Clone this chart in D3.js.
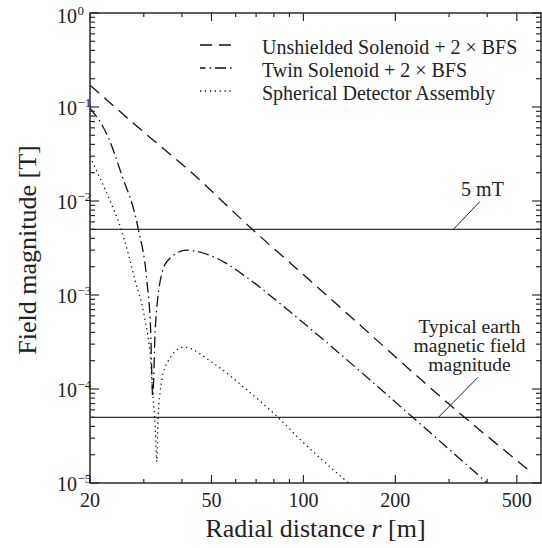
<!DOCTYPE html>
<html><head><meta charset="utf-8">
<script src="https://cdn.jsdelivr.net/npm/d3@7"></script>
<style>
body{margin:0;background:#fff}
svg{display:block}
text{font-family:"Liberation Serif","Times New Roman",Times,serif;fill:#222}
</style>
</head><body>
<svg id="c" width="542" height="548"></svg>
<script>
// ---- data ----
const seriesNames = ["Unshielded Solenoid + 2 \u00d7 BFS", "Twin Solenoid + 2 \u00d7 BFS", "Spherical Detector Assembly"];

const unshieldedR = [20, 30, 42, 68, 101, 150, 200, 337, 450, 561];
const unshieldedB = [0.171, 0.054, 0.0215, 5.0e-3, 1.6e-3, 5.1e-4, 2.2e-4, 5.0e-5, 2.3e-5, 1.28e-5];

const twinR = [20, 22.9, 25.3, 28.8, 30.7, 31.6, 32.1, 32.7, 33.3, 34.4, 36.1, 41.5, 50.8, 66, 82, 97.6, 228, 400];
const twinB = [0.097, 0.0483, 0.0197, 5.0e-3, 1.44e-3, 4.2e-4, 8.3e-5, 4.2e-4, 8.9e-4, 1.7e-3, 2.36e-3, 3.0e-3, 2.55e-3, 1.5e-3, 8.6e-4, 5.4e-4, 5.0e-5, 1.0e-5];

const sphericalR = [20, 21.2, 23.2, 25.3, 28.1, 30.3, 31.6, 32.1, 32.7, 33.1, 33.4, 34.4, 35.7, 40.5, 50.8, 65.3, 82.5, 97.6, 140.5];
const sphericalB = [0.0296, 0.0197, 0.0103, 5.0e-3, 1.44e-3, 5.4e-4, 2.0e-4, 9.0e-5, 4.0e-5, 1.69e-5, 4.7e-5, 1.25e-4, 1.87e-4, 2.78e-4, 1.87e-4, 9.8e-5, 5.0e-5, 2.9e-5, 1.0e-5];

const refLevels = [5e-3, 5e-5];
const refLabels = [["5 mT"], ["Typical earth", "magnetic field", "magnitude"]];

const xTickLabels = [20, 50, 100, 200, 500];
const xMinorTicks = [30, 40, 60, 70, 80, 90, 300, 400];
const yTickExponents = [0, -1, -2, -3, -4, -5];

// ---- layout ----
const svg = d3.select("#c");
const L = 90, R = 541, T = 13, B = 483;
const x = d3.scaleLog().domain([20, 600]).range([L, R]);
const y = d3.scaleLog().domain([1e-5, 1]).range([B, T]);

svg.append("defs").append("clipPath").attr("id", "clip")
  .append("rect").attr("x", L).attr("y", T).attr("width", R - L).attr("height", B - T);

const axisColor = "#2a2a2a";

// reference lines
svg.append("g").selectAll("line").data(refLevels).join("line")
  .attr("x1", L).attr("x2", R).attr("y1", d => y(d)).attr("y2", d => y(d))
  .attr("stroke", "#333").attr("stroke-width", 1.3);

// curves
const series = [
  {r: unshieldedR, b: unshieldedB, dash: "12,7"},
  {r: twinR, b: twinB, dash: "11,4,1.5,4"},
  {r: sphericalR, b: sphericalB, dash: "1.3,3.6"}
];
const line = d3.line().x(d => x(d[0])).y(d => y(d[1])).curve(d3.curveMonotoneX);
const gCurves = svg.append("g").attr("clip-path", "url(#clip)");
series.forEach(s => {
  gCurves.append("path").attr("d", line(s.r.map((r, i) => [r, s.b[i]])))
    .attr("fill", "none").attr("stroke", "#111").attr("stroke-width", 1.3)
    .attr("stroke-dasharray", s.dash);
});

// frame
svg.append("rect").attr("x", L).attr("y", T).attr("width", R - L).attr("height", B - T)
  .attr("fill", "none").attr("stroke", axisColor).attr("stroke-width", 1.5);

// x ticks (bottom and top, inward)
const gx = svg.append("g").attr("stroke", axisColor).attr("stroke-width", 1.2);
xTickLabels.forEach(v => {
  gx.append("line").attr("x1", x(v)).attr("x2", x(v)).attr("y1", B).attr("y2", B - 8);
  gx.append("line").attr("x1", x(v)).attr("x2", x(v)).attr("y1", T).attr("y2", T + 8);
});
xMinorTicks.forEach(v => {
  gx.append("line").attr("x1", x(v)).attr("x2", x(v)).attr("y1", B).attr("y2", B - 4);
  gx.append("line").attr("x1", x(v)).attr("x2", x(v)).attr("y1", T).attr("y2", T + 4);
});
svg.append("g").selectAll("text").data(xTickLabels).join("text")
  .attr("x", d => x(d)).attr("y", 507).attr("text-anchor", "middle")
  .attr("font-size", 20).text(d => d);

// y ticks (left and right, inward)
const gy = svg.append("g").attr("stroke", axisColor).attr("stroke-width", 1.2);
yTickExponents.forEach(e => {
  const v = Math.pow(10, e);
  gy.append("line").attr("x1", L).attr("x2", L + 9).attr("y1", y(v)).attr("y2", y(v));
  gy.append("line").attr("x1", R).attr("x2", R - 9).attr("y1", y(v)).attr("y2", y(v));
  if (e > -5) {
    for (let k = 2; k <= 9; k++) {
      const mv = k * Math.pow(10, e - 1);
      gy.append("line").attr("x1", L).attr("x2", L + 5).attr("y1", y(mv)).attr("y2", y(mv));
      gy.append("line").attr("x1", R).attr("x2", R - 5).attr("y1", y(mv)).attr("y2", y(mv));
    }
  }
});
const gyl = svg.append("g");
yTickExponents.forEach(e => {
  const yy = y(Math.pow(10, e)) + (e === 0 ? 10 : 8);
  gyl.append("text").attr("x", 77).attr("y", yy).attr("text-anchor", "end")
    .attr("font-size", 20).text("10");
  gyl.append("text").attr("x", 77.5).attr("y", yy - 8).attr("text-anchor", "start")
    .attr("font-size", 13).text(e === 0 ? "0" : "\u2212" + Math.abs(e));
});

// axis titles
svg.append("text").attr("x", (L + R) / 2).attr("y", 537).attr("text-anchor", "middle")
  .attr("font-size", 26)
  .call(t => {
    t.append("tspan").text("Radial distance ");
    t.append("tspan").attr("font-style", "italic").text("r");
    t.append("tspan").text(" [m]");
  });
svg.append("text").attr("transform", `translate(36,${(T + B) / 2 + 2}) rotate(-90)`)
  .attr("text-anchor", "middle").attr("font-size", 26).text("Field magnitude [T]");

// legend
const lg = svg.append("g");
series.forEach((s, i) => {
  const ly = 45 + i * 23;
  lg.append("line").attr("x1", 200).attr("x2", 234).attr("y1", ly).attr("y2", ly)
    .attr("stroke", "#111").attr("stroke-width", 1.3)
    .attr("stroke-dasharray", s.dash)
    .attr("stroke-dashoffset", i === 1 ? -15 : 0);
  lg.append("text").attr("x", 262).attr("y", ly + 8.5).attr("font-size", 20).text(seriesNames[i]);
});

// annotations (anchored in data space)
const ann = svg.append("g");
// 5 mT
ann.append("text").attr("x", x(386)).attr("y", y(0.0113)).attr("text-anchor", "middle")
  .attr("font-size", 20).text(refLabels[0][0]);
ann.append("line").attr("x1", x(378)).attr("y1", y(9.8e-3)).attr("x2", x(310)).attr("y2", y(refLevels[0]))
  .attr("stroke", "#222").attr("stroke-width", 1);
// earth field
refLabels[1].forEach((t, i) => {
  ann.append("text").attr("x", x(350)).attr("y", y(3.94e-4) + i * 19).attr("text-anchor", "middle")
    .attr("font-size", 19.5).text(t);
});
ann.append("line").attr("x1", x(373)).attr("y1", y(1.33e-4)).attr("x2", x(277)).attr("y2", y(refLevels[1]))
  .attr("stroke", "#222").attr("stroke-width", 1);
</script>
</body></html>
